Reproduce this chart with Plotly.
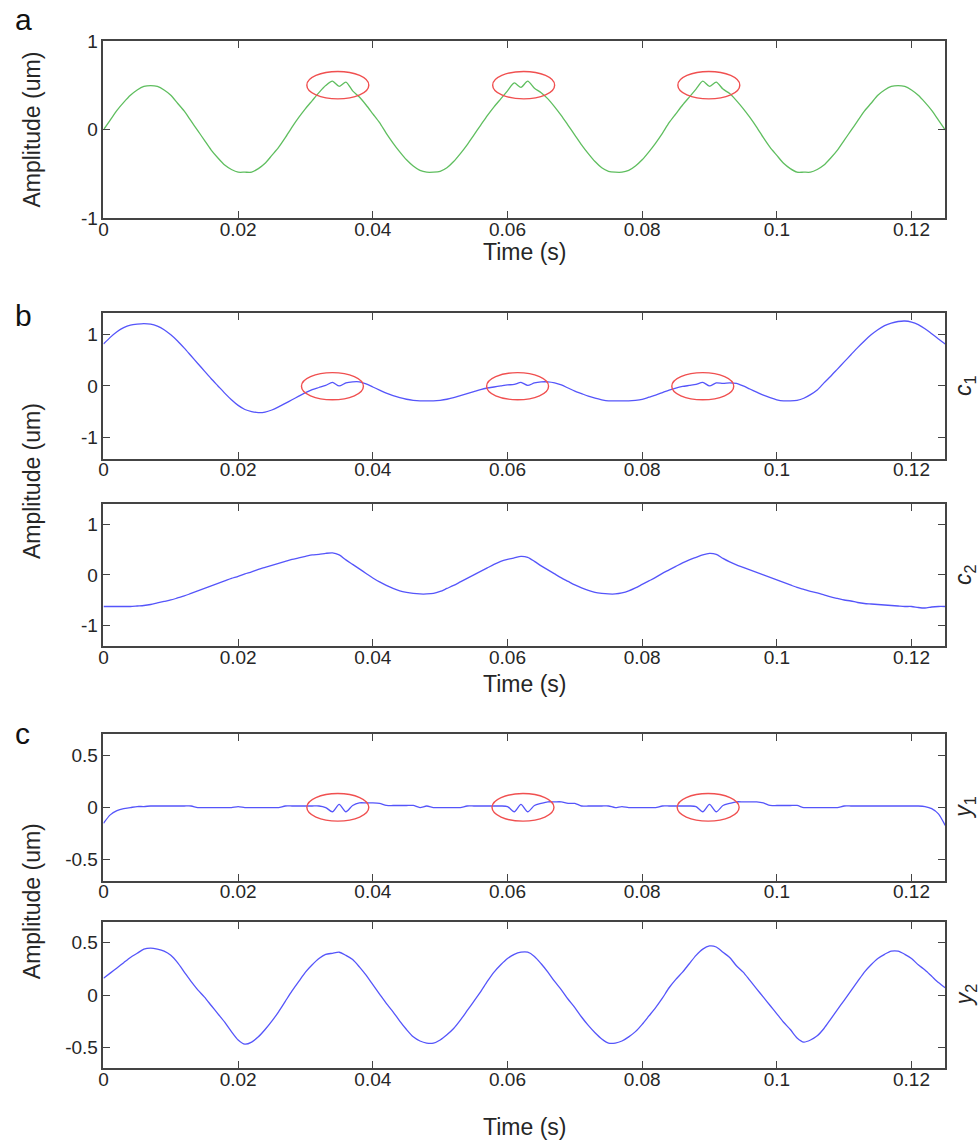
import plotly.graph_objects as go

# ---------------- data (sampled every 1 ms, 0 .. 0.125 s) ----------------
t_ms = list(range(126))
time_s = [v / 1000 for v in t_ms]

signal_a = [
    0.00, 0.11, 0.22, 0.31, 0.39, 0.45, 0.49, 0.50, 0.49, 0.45,
    0.39, 0.30, 0.21, 0.10, -0.01, -0.12, -0.23, -0.32, -0.40, -0.45,
    -0.48, -0.48, -0.48, -0.44, -0.38, -0.29, -0.20, -0.09, 0.03, 0.14,
    0.24, 0.33, 0.42, 0.50, 0.55, 0.49, 0.54, 0.44, 0.37, 0.28,
    0.18, 0.08, -0.04, -0.15, -0.25, -0.34, -0.41, -0.46, -0.48, -0.48,
    -0.47, -0.43, -0.36, -0.27, -0.17, -0.06, 0.05, 0.16, 0.26, 0.35,
    0.44, 0.53, 0.48, 0.55, 0.47, 0.42, 0.35, 0.26, 0.16, 0.05,
    -0.06, -0.17, -0.27, -0.36, -0.43, -0.47, -0.48, -0.48, -0.46, -0.41,
    -0.34, -0.25, -0.15, -0.04, 0.08, 0.18, 0.28, 0.37, 0.46, 0.55,
    0.49, 0.54, 0.46, 0.41, 0.33, 0.24, 0.14, 0.03, -0.09, -0.20,
    -0.29, -0.38, -0.44, -0.48, -0.48, -0.48, -0.45, -0.40, -0.32, -0.23,
    -0.12, -0.01, 0.10, 0.21, 0.30, 0.39, 0.45, 0.49, 0.50, 0.49,
    0.45, 0.39, 0.31, 0.22, 0.11, 0.00,
]

c1 = [
    0.82, 0.95, 1.06, 1.14, 1.19, 1.21, 1.22, 1.21, 1.17, 1.10,
    1.00, 0.88, 0.74, 0.59, 0.44, 0.29, 0.14, 0.00, -0.14, -0.27,
    -0.38, -0.46, -0.50, -0.52, -0.51, -0.47, -0.41, -0.34, -0.27, -0.20,
    -0.13, -0.07, -0.03, 0.01, 0.07, 0.00, 0.06, 0.08, 0.08, 0.04,
    -0.02, -0.08, -0.14, -0.19, -0.23, -0.26, -0.28, -0.29, -0.29, -0.29,
    -0.28, -0.26, -0.23, -0.19, -0.15, -0.11, -0.07, -0.04, -0.02, 0.00,
    0.02, 0.03, 0.07, 0.01, 0.06, 0.08, 0.08, 0.06, 0.02, -0.04,
    -0.10, -0.15, -0.20, -0.24, -0.27, -0.29, -0.29, -0.29, -0.29, -0.28,
    -0.26, -0.22, -0.18, -0.13, -0.08, -0.04, -0.01, 0.01, 0.03, 0.07,
    0.00, 0.06, 0.05, 0.06, 0.05, 0.00, -0.06, -0.12, -0.18, -0.23,
    -0.27, -0.29, -0.29, -0.28, -0.24, -0.17, -0.08, 0.06, 0.19, 0.33,
    0.47, 0.61, 0.75, 0.88, 1.00, 1.10, 1.18, 1.23, 1.26, 1.27,
    1.25, 1.20, 1.12, 1.02, 0.92, 0.82,
]

c2 = [
    -0.63, -0.63, -0.63, -0.63, -0.63, -0.62, -0.61, -0.59, -0.56, -0.53,
    -0.50, -0.46, -0.42, -0.37, -0.32, -0.27, -0.22, -0.17, -0.12, -0.07,
    -0.03, 0.02, 0.06, 0.11, 0.15, 0.19, 0.23, 0.27, 0.31, 0.34,
    0.37, 0.40, 0.41, 0.43, 0.44, 0.40, 0.30, 0.21, 0.12, 0.03,
    -0.06, -0.14, -0.21, -0.27, -0.32, -0.35, -0.37, -0.38, -0.38, -0.37,
    -0.33, -0.27, -0.21, -0.14, -0.07, 0.00, 0.07, 0.14, 0.21, 0.27,
    0.31, 0.34, 0.37, 0.35, 0.27, 0.18, 0.10, 0.02, -0.06, -0.13,
    -0.20, -0.26, -0.31, -0.35, -0.37, -0.38, -0.38, -0.36, -0.32, -0.26,
    -0.19, -0.12, -0.05, 0.03, 0.10, 0.17, 0.24, 0.30, 0.35, 0.40,
    0.43, 0.41, 0.33, 0.26, 0.20, 0.15, 0.10, 0.05, 0.00, -0.05,
    -0.10, -0.15, -0.20, -0.25, -0.29, -0.33, -0.36, -0.40, -0.44, -0.47,
    -0.50, -0.52, -0.55, -0.57, -0.58, -0.59, -0.60, -0.61, -0.62, -0.63,
    -0.63, -0.65, -0.66, -0.64, -0.63, -0.63,
]

y1 = [
    -0.15, -0.07, -0.03, -0.01, 0.00, 0.01, 0.01, 0.015, 0.015, 0.015,
    0.015, 0.015, 0.015, 0.015, 0.00, 0.00, 0.00, 0.00, 0.00, 0.00,
    0.01, 0.00, 0.00, 0.00, 0.00, 0.00, 0.00, 0.015, 0.015, 0.015,
    0.015, 0.015, 0.015, 0.00, -0.04, 0.03, -0.04, 0.02, 0.045, 0.045,
    0.045, 0.04, 0.02, 0.02, 0.02, 0.02, 0.02, 0.00, 0.015, 0.00,
    0.00, 0.00, 0.00, 0.00, 0.015, 0.015, 0.015, 0.015, 0.015, 0.015,
    0.01, -0.04, 0.03, -0.04, 0.02, 0.04, 0.055, 0.055, 0.055, 0.04,
    0.04, 0.015, 0.015, 0.015, 0.015, 0.015, 0.00, 0.01, 0.00, 0.00,
    0.00, 0.00, 0.00, 0.015, 0.015, 0.015, 0.015, 0.015, 0.01, -0.04,
    0.03, -0.04, 0.02, 0.04, 0.055, 0.055, 0.055, 0.055, 0.045, 0.02,
    0.02, 0.02, 0.02, 0.02, 0.00, 0.00, 0.00, 0.00, 0.00, 0.00,
    0.015, 0.015, 0.015, 0.015, 0.015, 0.015, 0.015, 0.015, 0.015, 0.015,
    0.015, 0.015, 0.01, -0.01, -0.06, -0.17,
]

y2 = [
    0.16, 0.21, 0.26, 0.31, 0.36, 0.40, 0.44, 0.45, 0.44, 0.42,
    0.38, 0.31, 0.22, 0.13, 0.05, -0.02, -0.10, -0.18, -0.26, -0.35,
    -0.43, -0.47, -0.45, -0.40, -0.33, -0.25, -0.16, -0.06, 0.04, 0.13,
    0.22, 0.29, 0.35, 0.39, 0.40, 0.41, 0.38, 0.34, 0.27, 0.19,
    0.10, 0.01, -0.08, -0.16, -0.25, -0.33, -0.40, -0.44, -0.46, -0.46,
    -0.43, -0.38, -0.32, -0.24, -0.15, -0.06, 0.03, 0.13, 0.22, 0.29,
    0.35, 0.39, 0.41, 0.41, 0.37, 0.30, 0.22, 0.13, 0.05, -0.04,
    -0.12, -0.21, -0.29, -0.36, -0.42, -0.46, -0.46, -0.44, -0.40, -0.35,
    -0.28, -0.20, -0.12, -0.03, 0.07, 0.15, 0.22, 0.30, 0.38, 0.44,
    0.47, 0.46, 0.41, 0.36, 0.28, 0.22, 0.14, 0.06, -0.02, -0.10,
    -0.18, -0.26, -0.33, -0.41, -0.45, -0.43, -0.39, -0.32, -0.23, -0.14,
    -0.05, 0.04, 0.13, 0.22, 0.29, 0.35, 0.39, 0.42, 0.42, 0.39,
    0.35, 0.29, 0.24, 0.18, 0.12, 0.07,
]

# centres (s) of the circled disturbances
glitch_a = [0.0348, 0.0624, 0.0899]
glitch_b = [0.0340, 0.0615, 0.0890]
glitch_c = [0.0348, 0.0623, 0.0898]

x_ticks = [0, 0.02, 0.04, 0.06, 0.08, 0.1, 0.12]
x_tick_text = ["0", "0.02", "0.04", "0.06", "0.08", "0.1", "0.12"]

# ---------------- layout geometry ----------------
W, H = 979, 1143
XL, XR = 99, 945
FONT = "Liberation Sans, Arial, sans-serif"
TXT = "#262626"
AX = "#444444"
BLUE = "rgb(85,85,250)"
GREEN = "rgb(95,190,95)"
RED = "rgb(240,80,80)"
TICK_SIZE = 19
LABEL_SIZE = 23

panels = [
    dict(top=32, bot=212, y=signal_a, color=GREEN, rng=[-1, 1],
         tv=[-1, 0, 1], tt=["-1", "0", "1"], title_y=247, right=None),
    dict(top=309, bot=457, y=c1, color=BLUE, rng=[-1.42, 1.42],
         tv=[-1, 0, 1], tt=["-1", "0", "1"], title_y=None, right="<i>c</i><sub>1</sub>"),
    dict(top=503, bot=648, y=c2, color=BLUE, rng=[-1.42, 1.42],
         tv=[-1, 0, 1], tt=["-1", "0", "1"], title_y=687, right="<i>c</i><sub>2</sub>"),
    dict(top=738, bot=887, y=y1, color=BLUE, rng=[-0.7, 0.7],
         tv=[-0.5, 0, 0.5], tt=["-0.5", "0", "0.5"], title_y=None, right="<i>y</i><sub>1</sub>"),
    dict(top=929, bot=1078, y=y2, color=BLUE, rng=[-0.7, 0.7],
         tv=[-0.5, 0, 0.5], tt=["-0.5", "0", "0.5"], title_y=1138, right="<i>y</i><sub>2</sub>"),
]

fig = go.Figure()
layout = dict(
    width=W, height=H, margin=dict(l=0, r=0, t=0, b=0),
    paper_bgcolor="white", plot_bgcolor="white", showlegend=False,
    font=dict(family=FONT, size=TICK_SIZE, color=TXT),
)
annotations = []
shapes = []

xd = [XL / W, XR / W]
xc = (XL + XR) / 2 / W
for i, p in enumerate(panels):
    n = "" if i == 0 else str(i + 1)
    xa, ya = "x" + n, "y" + n
    fig.add_trace(go.Scatter(x=time_s, y=p["y"], mode="lines",
                             line=dict(color=p["color"], width=1.3,
                                       shape="spline", smoothing=0.7),
                             xaxis=xa, yaxis=ya, hoverinfo="skip"))
    common = dict(showline=True, mirror="ticks", linecolor=AX, linewidth=1.6,
                  ticks="inside", ticklen=7, tickwidth=1.4, tickcolor=AX,
                  showgrid=False, zeroline=False,
                  tickfont=dict(family=FONT, size=TICK_SIZE, color=TXT))
    layout["xaxis" + n] = dict(domain=xd, anchor=ya, range=[0, 0.125],
                               tickvals=x_ticks, ticktext=x_tick_text,
                               ticklabelstandoff=-7, **common)
    layout["yaxis" + n] = dict(domain=[1 - p["bot"] / H, 1 - p["top"] / H],
                               anchor=xa, range=p["rng"], tickvals=p["tv"],
                               ticktext=p["tt"], **common)
    if p["title_y"]:
        annotations.append(dict(text="Time (s)", xref="paper", yref="paper",
                                x=xc, y=1 - p["title_y"] / H, xanchor="center",
                                yanchor="middle", showarrow=False,
                                font=dict(family=FONT, size=LABEL_SIZE, color=TXT)))
    if p["right"]:
        annotations.append(dict(text=p["right"], xref="paper", yref="paper",
                                x=965 / W, y=1 - (p["top"] + p["bot"]) / 2 / H,
                                xanchor="center", yanchor="middle",
                                showarrow=False, textangle=-90,
                                font=dict(family=FONT, size=LABEL_SIZE, color=TXT)))

# ellipses around disturbances
def add_ellipses(centres, xa, ya, y0, y1_, half_w=0.0046):
    for c in centres:
        shapes.append(dict(type="circle", xref=xa, yref=ya,
                           x0=c - half_w, x1=c + half_w, y0=y0, y1=y1_,
                           line=dict(color=RED, width=1.4)))

add_ellipses(glitch_a, "x", "y", 0.35, 0.66)
add_ellipses(glitch_b, "x2", "y2", -0.27, 0.26)
add_ellipses(glitch_c, "x4", "y4", -0.13, 0.135)

# y titles and panel letters
for yc in [122, 480, 908]:
    annotations.append(dict(text="Amplitude (um)", xref="paper", yref="paper",
                            x=27 / W, y=1 - yc / H, xanchor="center", yanchor="middle",
                            showarrow=False, textangle=-90,
                            font=dict(family=FONT, size=LABEL_SIZE, color=TXT)))
for letter, (lx, ly) in zip(["a", "b", "c"], [(19, 10), (19, 311), (18, 737)]):
    annotations.append(dict(text=letter, xref="paper", yref="paper",
                            x=lx / W, y=1 - ly / H, xanchor="center", yanchor="middle",
                            showarrow=False,
                            font=dict(family=FONT, size=30, color="#111111")))

layout["annotations"] = annotations
layout["shapes"] = shapes
fig.update_layout(**layout)
fig.write_html("out.html")
